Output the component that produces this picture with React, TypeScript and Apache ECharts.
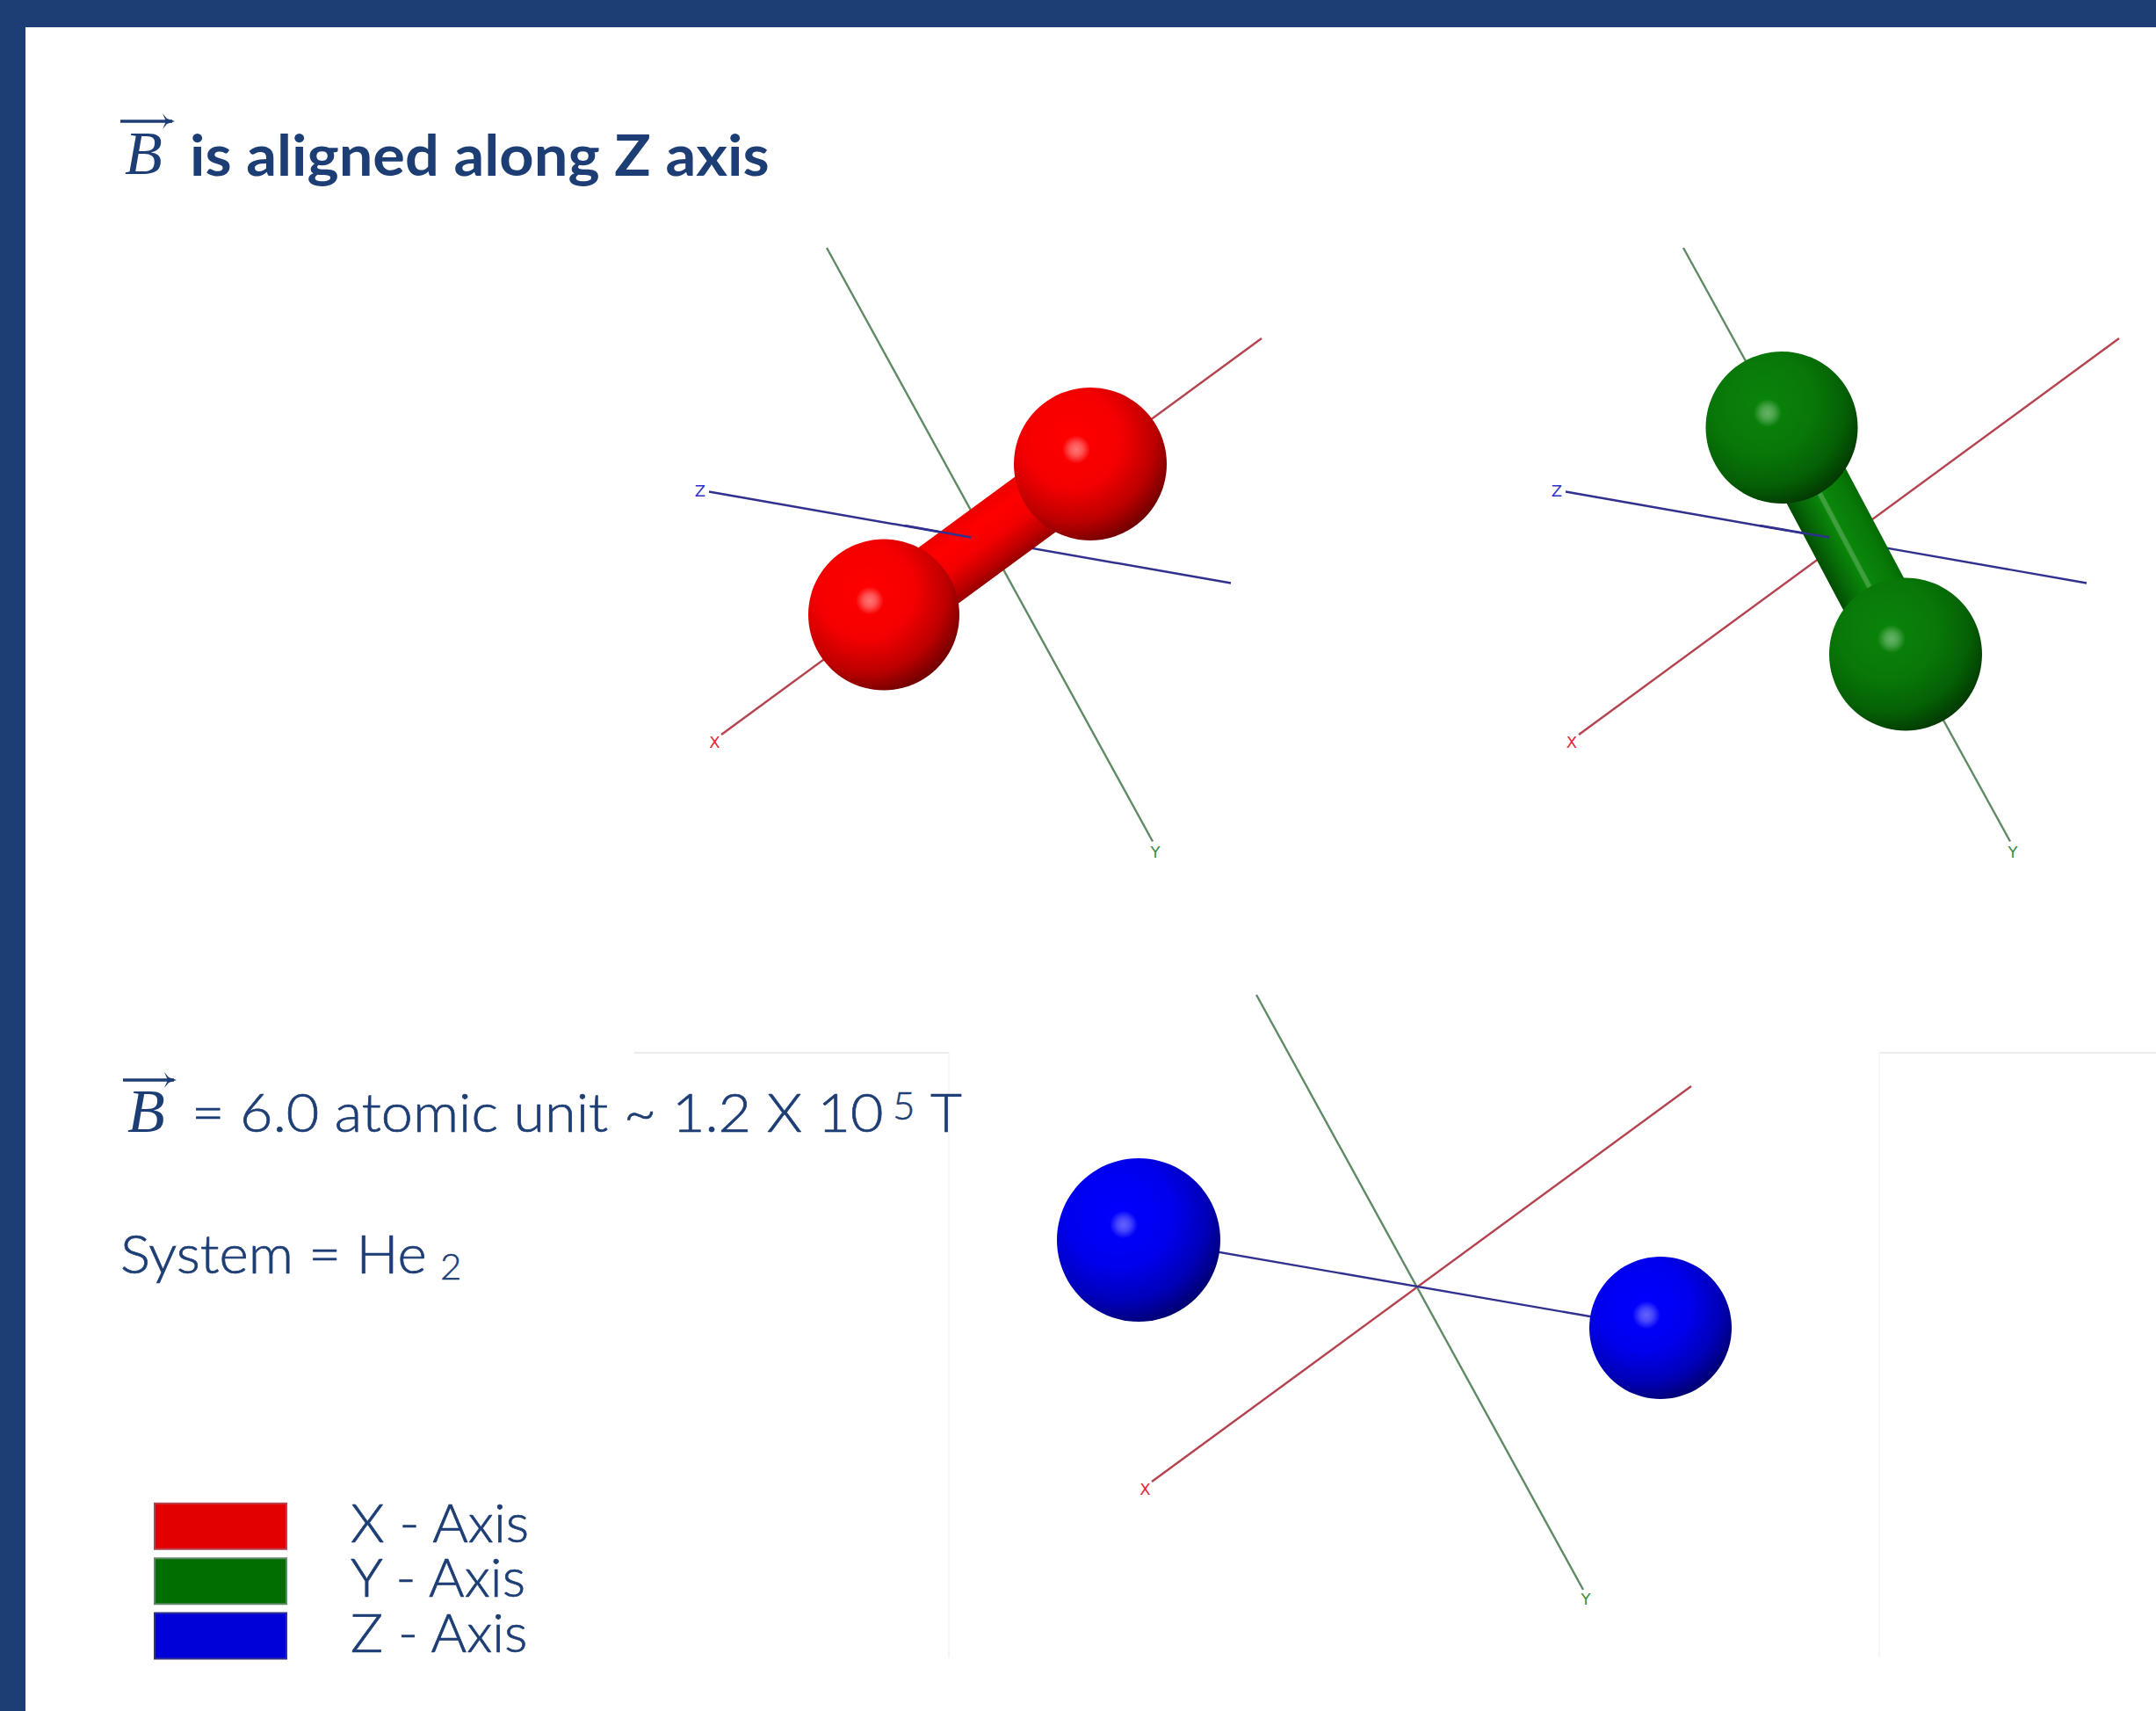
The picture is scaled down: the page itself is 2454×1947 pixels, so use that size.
import React, { useEffect, useRef } from "react";
import * as echarts from "echarts";

const NAVY = "#1d3d75";

// Values, in the picture's own units
const legendNames = ["X - Axis", "Y - Axis", "Z - Axis"];
const legendColors = ["#e30000", "#006e00", "#0000d8"];
const xAxisSegments = [
  [[1436, 385], [821, 836]],
  [[2412, 385], [1797, 836]],
  [[1925, 1236], [1311, 1686]],
];
const yAxisSegments = [
  [[941, 282], [1312, 957.5]],
  [[1916, 282], [2288, 957.5]],
  [[1430, 1132], [1802, 1809]],
];
const zAxisSegments = [
  [[807, 559.5], [1401, 663.5]],
  [[1782, 559.5], [2375, 663.5]],
  [[1296, 1409], [1853, 1505.5]],
];
const zOverBond = [
  [[1030, 598], [1105, 611.5]],
  [[2003, 598], [2082, 611.5]],
];
const zOverAtom = [[[1810, 1498], [1853, 1505.5]]];
const redBack = [[1006, 699.5, 86]];
const redFront = [[1241, 528, 87]];
const greenBack = [[2028, 486.5, 86.5]];
const greenFront = [[2169, 744.5, 87]];
const blueAtoms = [[1296, 1411, 93], [1890, 1511, 81]];
const redBond = [[1068, 655], [1241, 528]];
const greenBond = [[2063, 545], [2169, 744.5]];
const redGlints = [[1225, 511.5], [990, 683.5]];
const greenGlints = [[2012, 470], [2153, 727]];
const blueGlints = [[1279, 1393.5], [1874, 1496.5]];

const sphere = (stops: string[]) => ({
  type: "radial", x: 0.38, y: 0.34, r: 0.72,
  colorStops: [
    { offset: 0, color: stops[0] },
    { offset: 0.45, color: stops[1] },
    { offset: 0.75, color: stops[2] },
    { offset: 1, color: stops[3] },
  ],
});
const redBall = sphere(["#ff0000", "#f40000", "#bc0000", "#640000"]);
const greenBall = sphere(["#0a840a", "#087808", "#056005", "#023302"]);
const blueBall = sphere(["#0000ff", "#0000ee", "#0000b8", "#000066"]);

const glint = (rgb: string, a: number) => ({
  type: "radial", x: 0.5, y: 0.5, r: 0.5,
  colorStops: [
    { offset: 0, color: `rgba(${rgb},${a})` },
    { offset: 0.45, color: `rgba(${rgb},${a * 0.72})` },
    { offset: 1, color: `rgba(${rgb},0)` },
  ],
});

function across(seg: number[][], width: number, stops: [number, string][]) {
  const [a, b] = seg;
  const dx = b[0] - a[0], dy = b[1] - a[1];
  const len = Math.hypot(dx, dy);
  const nx = -dy / len, ny = dx / len;
  const cx = (a[0] + b[0]) / 2, cy = (a[1] + b[1]) / 2;
  const h = width / 2;
  return {
    type: "linear", global: true,
    x: cx - nx * h, y: cy - ny * h, x2: cx + nx * h, y2: cy + ny * h,
    colorStops: stops.map(([offset, color]) => ({ offset, color })),
  };
}

const segs = (list: number[][][]) => list.map((coords) => ({ coords }));
const axisLines = (name: string, color: string, data: number[][][]) => ({
  type: "lines", name, coordinateSystem: "cartesian2d", silent: true,
  lineStyle: { color, width: 2.4, opacity: 1, curveness: 0 },
  data: segs(data),
});
const atoms = (data: number[][], color: any) => ({
  type: "scatter", silent: true, symbol: "circle",
  symbolSize: (v: number[]) => v[2] * 2,
  itemStyle: { color, opacity: 1 },
  data,
});
const glints = (data: number[][], color: any) => ({
  type: "scatter", silent: true, symbol: "circle", symbolSize: 32,
  itemStyle: { color, opacity: 1 },
  data,
});
const bond = (seg: number[][], width: number, color: any) => ({
  type: "lines", coordinateSystem: "cartesian2d", silent: true,
  lineStyle: { color, width, opacity: 1, curveness: 0, cap: "butt" },
  data: [{ coords: seg }],
});

const txt = (text: string, x: number, y: number, fontSize: number, extra: any = {}) => ({
  type: "text", x, y, z: 50, scaleX: extra.scaleX ?? 1, silent: true,
  style: {
    text, fontSize, fontFamily: extra.family ?? "Lato", fontWeight: extra.weight ?? 300,
    fontStyle: extra.italic ? "italic" : "normal",
    fill: extra.fill ?? NAVY, textAlign: extra.align ?? "left", textVerticalAlign: "middle",
    stroke: extra.thicken ? NAVY : undefined, lineWidth: extra.thicken ?? 0,
  },
});
const arrow = (x1: number, x2: number, y: number) => [
  { type: "line", z: 50, silent: true, shape: { x1, y1: y, x2: x2 - 3, y2: y }, style: { stroke: NAVY, lineWidth: 3.5 } },
  {
    type: "polygon", z: 50, silent: true,
    shape: { points: [[x2 - 14, y - 9], [x2 - 9, y - 3], [x2, y], [x2 - 9, y + 3], [x2 - 14, y + 9], [x2 - 10, y]] },
    style: { fill: NAVY },
  },
];
const rule = (x1: number, y1: number, x2: number, y2: number, stroke: string) => ({
  type: "line", z: 1, silent: true, shape: { x1, y1, x2, y2 }, style: { stroke, lineWidth: 1.5 },
});

const AXIS_FONT = "DejaVu Sans";
const tag = (t: string, x: number, y: number, fill: string) =>
  txt(t, x, y, 18, { family: AXIS_FONT, weight: 400, fill, align: "center" });

export default function App() {
  const ref = useRef<HTMLDivElement>(null);
  useEffect(() => {
    const chart = echarts.init(ref.current!, undefined, { renderer: "svg" });
    chart.setOption({
      animation: false,
      backgroundColor: "#ffffff",
      grid: { left: 0, right: 0, top: 0, bottom: 0 },
      xAxis: { type: "value", min: 0, max: 2454, show: false },
      yAxis: { type: "value", min: 0, max: 1947, inverse: true, show: false },
      legend: {
        orient: "vertical", left: 175, top: 1699.5, padding: 0,
        itemWidth: 150, itemHeight: 52, itemGap: -2, icon: "rect",
        selectedMode: false,
        formatter: "{a|{name}}",
        textStyle: {
          padding: [0, 0, 0, 68],
          rich: {
            a: {
              color: NAVY, fontFamily: "Lato", fontWeight: 300, fontSize: 62,
              textBorderColor: NAVY, textBorderWidth: 0.7,
              padding: [0, 0, 12, 0],
            },
          },
        },
        data: legendNames.map((name, i) => ({ name, itemStyle: { color: legendColors[i] } })),
      },
      graphic: [
        { type: "rect", z: 40, silent: true, shape: { x: 0, y: 0, width: 2454, height: 31 }, style: { fill: NAVY } },
        { type: "rect", z: 40, silent: true, shape: { x: 0, y: 0, width: 29, height: 1947 }, style: { fill: NAVY } },
        rule(722, 1198, 1080, 1198, "#e6e6e6"),
        rule(1080, 1198, 1080, 1886, "#f3f3f3"),
        rule(2139, 1198, 2454, 1198, "#e6e6e6"),
        rule(2139, 1198, 2139, 1886, "#f3f3f3"),
        txt("B", 142, 174, 70, { family: "Liberation Serif", italic: true, weight: 400 }),
        ...arrow(137, 199, 138),
        txt("is aligned along Z axis", 216, 175, 65, { weight: 700, scaleX: 1.055 }),
        txt("B", 145, 1264, 70, { family: "Liberation Serif", italic: true, weight: 400 }),
        ...arrow(140, 201, 1229),
        txt("= 6.0 atomic unit ~ 1.2 X 10", 218, 1264, 62, { scaleX: 1.044, thicken: 0.7 }),
        txt("5", 1016, 1257, 44, { thicken: 0.5 }),
        txt("T", 1059, 1264, 62, { thicken: 0.7 }),
        txt("System = He", 137, 1425, 62, { scaleX: 1.027, thicken: 0.7 }),
        txt("2", 501, 1440, 42, { thicken: 0.5 }),
        tag("X", 813.5, 844, "#e0283c"),
        tag("Y", 1315, 969, "#3c8c46"),
        tag("Z", 797, 558, "#3232c8"),
        tag("X", 1789, 844, "#e0283c"),
        tag("Y", 2291, 969, "#3c8c46"),
        tag("Z", 1772, 558, "#3232c8"),
        tag("X", 1303.5, 1694.5, "#e0283c"),
        tag("Y", 1805, 1819, "#3c8c46"),
      ],
      series: [
        axisLines(legendNames[0], "#b4434f", xAxisSegments),
        axisLines(legendNames[1], "#5f8a65", yAxisSegments),
        axisLines(legendNames[2], "#30308f", zAxisSegments),
        atoms(redBack, redBall),
        atoms(greenBack, greenBall),
        atoms(blueAtoms, blueBall),
        bond(redBond, 78, across(redBond, 78, [
          [0, "#ee0000"], [0.25, "#ff0000"], [0.55, "#f20000"], [0.85, "#bc0000"], [1, "#940000"],
        ])),
        bond(greenBond, 78, across(greenBond, 78, [
          [0, "#056a05"], [0.15, "#077a07"], [0.46, "#0a860a"], [0.48, "#3f9f3f"], [0.53, "#3f9f3f"],
          [0.55, "#0a860a"], [0.8, "#066a06"], [1, "#034d03"],
        ])),
        atoms(redFront, redBall),
        atoms(greenFront, greenBall),
        {
          type: "lines", coordinateSystem: "cartesian2d", silent: true,
          lineStyle: { color: "#30308f", width: 2.4, opacity: 1, curveness: 0 },
          data: segs(zOverBond),
        },
        {
          type: "lines", coordinateSystem: "cartesian2d", silent: true,
          lineStyle: { color: "#0000a8", width: 2, opacity: 1, curveness: 0 },
          data: segs(zOverAtom),
        },
        glints(redGlints, glint("255,190,190", 0.62)),
        glints(greenGlints, glint("170,215,170", 0.58)),
        glints(blueGlints, glint("160,160,255", 0.62)),
      ],
    });
    return () => chart.dispose();
  }, []);
  return <div ref={ref} style={{ position: "absolute", left: 0, top: 0, width: 2454, height: 1947 }} />;
}
